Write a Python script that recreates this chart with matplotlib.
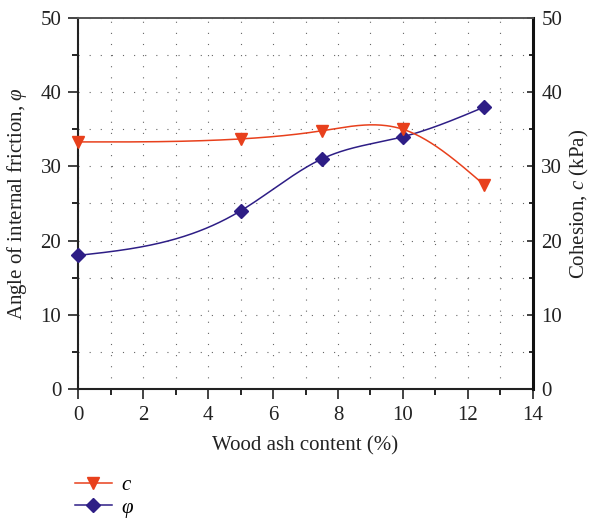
import numpy as np
import matplotlib
matplotlib.use("Agg")
import matplotlib.pyplot as plt
from matplotlib.ticker import MultipleLocator
from matplotlib.lines import Line2D

plt.rcParams['font.family'] = ['Liberation Serif', 'DejaVu Serif']
plt.rcParams['mathtext.fontset'] = 'custom'
plt.rcParams['mathtext.rm'] = 'Liberation Serif'
plt.rcParams['mathtext.it'] = 'Liberation Serif:italic'

# Wood ash content (%) and measured strength parameters
ash_content = [0, 5, 7.5, 10, 12.5]
cohesion_kpa = [33.3, 33.7, 34.8, 35.0, 27.5]
friction_angle = [18.0, 24.0, 31.0, 34.0, 38.0]

x_ticks = [0, 2, 4, 6, 8, 10, 12, 14]
y_ticks = [0, 10, 20, 30, 40, 50]

RED = '#e8401c'
BLUE = '#2e1e86'


def natural_spline(x, y, n=300):
    """Smooth natural cubic spline through the given points (for drawing)."""
    x = np.asarray(x, float)
    y = np.asarray(y, float)
    k = len(x)
    h = np.diff(x)
    A = np.zeros((k, k))
    b = np.zeros(k)
    A[0, 0] = A[-1, -1] = 1.0
    for i in range(1, k - 1):
        A[i, i - 1] = h[i - 1]
        A[i, i] = 2 * (h[i - 1] + h[i])
        A[i, i + 1] = h[i]
        b[i] = 6 * ((y[i + 1] - y[i]) / h[i] - (y[i] - y[i - 1]) / h[i - 1])
    M = np.linalg.solve(A, b)
    xs = np.linspace(x[0], x[-1], n)
    idx = np.clip(np.searchsorted(x, xs) - 1, 0, k - 2)
    x0, x1 = x[idx], x[idx + 1]
    hh = x1 - x0
    t0, t1 = x1 - xs, xs - x0
    ys = (M[idx] * t0 ** 3 / (6 * hh) + M[idx + 1] * t1 ** 3 / (6 * hh)
          + (y[idx] / hh - M[idx] * hh / 6) * t0
          + (y[idx + 1] / hh - M[idx + 1] * hh / 6) * t1)
    return xs, ys


fig = plt.figure(figsize=(5.92, 5.19), dpi=100)
ax = fig.add_axes([0.1318, 0.2505, 0.7685, 0.7148])
ax2 = ax.twinx()

ax.set_xlim(0, 14)
ax.set_ylim(0, 50)
ax2.set_ylim(0, 50)

ax.xaxis.set_major_locator(MultipleLocator(2))
ax.xaxis.set_minor_locator(MultipleLocator(1))
ax.yaxis.set_major_locator(MultipleLocator(10))
ax.yaxis.set_minor_locator(MultipleLocator(5))
ax2.yaxis.set_major_locator(MultipleLocator(10))
ax2.yaxis.set_minor_locator(MultipleLocator(5))

ax.grid(True, which='both', color='#666666', linestyle=(0, (1, 9)), linewidth=0.8)
ax.set_axisbelow(True)

# cohesion (right axis scale identical to left)
xs, ys = natural_spline(ash_content, cohesion_kpa)
ax2.plot(xs, ys, color=RED, lw=1.1, zorder=3, clip_on=False)
ax2.plot(ash_content, cohesion_kpa, linestyle='none', marker='v', ms=9,
         color=RED, zorder=4, clip_on=False)

# friction angle
xs, ys = natural_spline(ash_content, friction_angle)
ax.plot(xs, ys, color=BLUE, lw=1.1, zorder=3, clip_on=False)
ax.plot(ash_content, friction_angle, linestyle='none', marker='D', ms=7,
        color=BLUE, zorder=4, clip_on=False)

ax.set_xticks(x_ticks)
ax.set_yticks(y_ticks)
ax2.set_yticks(y_ticks)

fs = 15
ax.tick_params(axis='both', which='major', direction='out', length=7, width=1.2,
               labelsize=fs, colors='#222222', right=False, top=False, pad=5)
ax.tick_params(axis='both', which='minor', direction='out', length=4, width=1.2,
               right=False, top=False)
ax2.tick_params(axis='y', which='major', direction='in', length=4, width=1.2,
                labelsize=fs, colors='#222222', pad=6)
ax2.tick_params(axis='y', which='minor', direction='in', length=3, width=1.2)

for s in ('left', 'bottom'):
    ax.spines[s].set_linewidth(1.5)
    ax.spines[s].set_color('#222222')
ax.spines['top'].set_linewidth(1.2)
ax.spines['top'].set_color('#555555')
ax2.spines['right'].set_linewidth(2.2)
ax2.spines['right'].set_color('#111111')
ax2.spines['top'].set_linewidth(1.2)
ax2.spines['top'].set_color('#555555')
ax2.spines['left'].set_visible(False)
ax2.spines['bottom'].set_visible(False)

ax.set_xlabel('Wood ash content (%)', fontsize=fs, color='#222222', labelpad=8)
ax.set_ylabel(r'Angle of internal friction, $\it{\varphi}$', fontsize=fs,
              color='#222222', labelpad=8)
ax2.set_ylabel(r'Cohesion, $\it{c}$ (kPa)', fontsize=fs, color='#222222',
               labelpad=4)

handles = [
    Line2D([], [], color=RED, lw=1.1, marker='v', ms=9),
    Line2D([], [], color=BLUE, lw=1.1, marker='D', ms=7),
]
fig.legend(handles, [r'$\it{c}$', r'$\it{\varphi}$'], loc='upper left',
           bbox_to_anchor=(0.127, 0.084), frameon=False, fontsize=fs,
           handlelength=1.75, handletextpad=0.45, labelspacing=0.15,
           borderaxespad=0, borderpad=0, bbox_transform=fig.transFigure)

fig.savefig('out.png', dpi=100)
